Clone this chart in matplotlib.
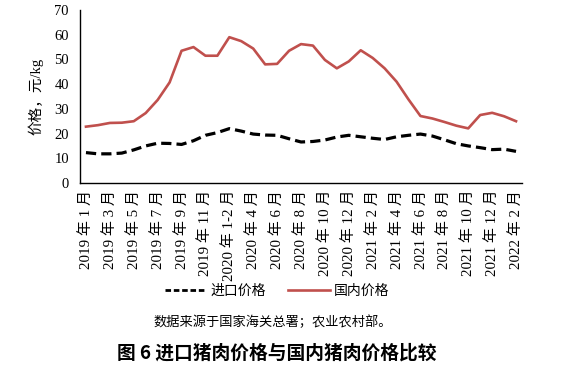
import matplotlib
matplotlib.use("Agg")
import matplotlib.pyplot as plt
from matplotlib.lines import Line2D

plt.rcParams['font.family'] = ['Liberation Serif', 'Noto Sans CJK SC', 'DejaVu Sans']

months = (["2019年1月", "2019年2月", "2019年3月", "2019年4月", "2019年5月", "2019年6月",
           "2019年7月", "2019年8月", "2019年9月", "2019年10月", "2019年11月", "2019年12月",
           "2020年1-2月", "2020年3月", "2020年4月", "2020年5月", "2020年6月", "2020年7月",
           "2020年8月", "2020年9月", "2020年10月", "2020年11月", "2020年12月",
           "2021年1月", "2021年2月", "2021年3月", "2021年4月", "2021年5月", "2021年6月",
           "2021年7月", "2021年8月", "2021年9月", "2021年10月", "2021年11月", "2021年12月",
           "2022年1月", "2022年2月"])
tick_labels = ["2019 年 1 月", "2019 年 3 月", "2019 年 5 月", "2019 年 7 月", "2019 年 9 月",
               "2019 年 11 月", "2020 年 1-2 月", "2020 年 4 月", "2020 年 6 月", "2020 年 8 月",
               "2020 年 10 月", "2020 年 12 月", "2021 年 2 月", "2021 年 4 月", "2021 年 6 月",
               "2021 年 8 月", "2021 年 10 月", "2021 年 12 月", "2022 年 2 月"]

import_price = [12.3, 11.8, 11.8, 12.1, 13.4, 15.0, 16.1, 16.0, 15.6, 17.1, 19.3, 20.4,
                22.0, 21.0, 19.8, 19.4, 19.3, 17.9, 16.6, 16.8, 17.4, 18.6, 19.3,
                18.7, 18.1, 17.6, 18.7, 19.3, 19.8, 19.0, 17.5, 15.9, 15.0, 14.3, 13.5,
                13.7, 12.8]
domestic_price = [22.8, 23.4, 24.3, 24.4, 25.0, 28.3, 33.6, 40.7, 53.5, 55.0, 51.5, 51.5,
                  59.0, 57.4, 54.4, 48.0, 48.2, 53.5, 56.2, 55.6, 49.8, 46.4, 49.2,
                  53.7, 50.6, 46.4, 41.0, 33.8, 27.1, 26.1, 24.7, 23.2, 22.1, 27.5, 28.4,
                  27.0, 25.0]
legend_labels = ["进口价格", "国内价格"]

fig = plt.figure(figsize=(5.8, 3.73), dpi=100)
ax = fig.add_axes([80/580, 1-183/373, 442/580, 173/373])

x = list(range(len(months)))
ax.plot(x, import_price, color='black', lw=2.3, linestyle=(0, (3.2, 1.6)))
ax.plot(x, domestic_price, color='#C0504D', lw=1.9)

ax.set_xlim(-0.5, len(months) - 0.5)
ax.set_ylim(0, 70)
ax.set_yticks(range(0, 71, 10))
ax.set_xticks(x[::2])
ax.set_xticklabels(tick_labels, rotation=90, va='top', ha='center')
ax.tick_params(axis='both', length=0, labelsize=10.5)
ax.tick_params(axis='x', pad=5, labelsize=10.8)
ax.tick_params(axis='y', pad=8)
for s in ['top', 'right']:
    ax.spines[s].set_visible(False)
for s in ['left', 'bottom']:
    ax.spines[s].set_linewidth(1.0)
    ax.spines[s].set_color('black')

ax.set_ylabel("价格，元/kg", fontsize=10.5, labelpad=8)

handles = [Line2D([], [], color='black', lw=2.0, linestyle=(0, (2.0, 1.0))),
           Line2D([], [], color='#C0504D', lw=1.9)]
fig.legend(handles, legend_labels, loc='center', bbox_to_anchor=(277/580, 1-291/373),
           ncol=2, frameon=False, handlelength=3.0, handletextpad=0.3,
           columnspacing=1.6, prop={'family': ['Noto Sans CJK SC'], 'size': 10})

fig.text(273/580, 1-322/373, "数据来源于国家海关总署；农业农村部。", ha='center', va='center',
         fontsize=9.5, family=['Noto Sans CJK SC'])
fig.text(277/580, 1-353/373, "图 6 进口猪肉价格与国内猪肉价格比较", ha='center', va='center',
         fontsize=13.5, fontweight='bold', family=['Noto Sans CJK SC'])

fig.savefig("out.png", dpi=100)
